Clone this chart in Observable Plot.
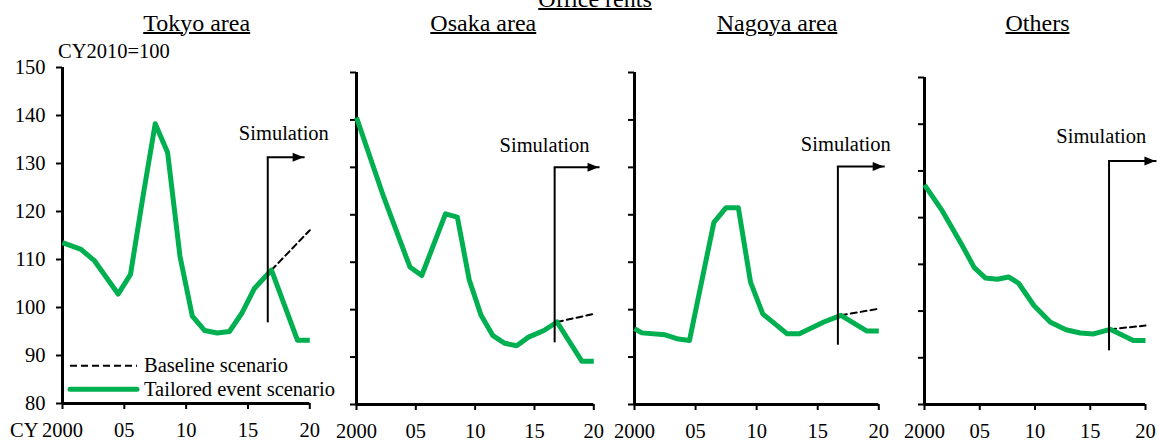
<!DOCTYPE html>
<html>
<head>
<meta charset="utf-8">
<script src="https://cdn.jsdelivr.net/npm/d3@7"></script>
<script src="https://cdn.jsdelivr.net/npm/@observablehq/plot@0.6"></script>
<style>
  html, body { margin: 0; padding: 0; background: #fff; }
  #chart { position: relative; width: 1157px; height: 441px; overflow: hidden; background: #fff;
           font-family: "Liberation Serif", "Times New Roman", serif; color: #000; }
  .abs { position: absolute; white-space: nowrap; }
  .title { font-size: 24px; line-height: 24px; text-decoration: underline; text-decoration-thickness: 2px; transform: translateX(-50%); }
  .small { font-size: 20.5px; line-height: 20.5px; }
</style>
</head>
<body>
<div id="chart"></div>
<script>
// ---------- data ----------
const chartTitle = "Office rents";
const panelNames = ["Tokyo area", "Osaka area", "Nagoya area", "Others"];
const yUnit = "CY2010=100";
const xPrefix = "CY";
const xTicks = [2000, 2005, 2010, 2015, 2020];
const xTickLabels = ["2000", "05", "10", "15", "20"];
const yTicks = [80, 90, 100, 110, 120, 130, 140, 150];
const legendLabels = ["Baseline scenario", "Tailored event scenario"];
const simLabel = "Simulation";

// Tailored event scenario (whole line)
const tokyoYears  = [2000, 2001.5, 2002.6, 2004.5, 2005.5, 2006.5, 2007.5, 2008.5, 2009.5, 2010.5, 2011.5, 2012.5, 2013.5, 2014.5, 2015.5, 2016.9, 2019, 2020];
const tokyoValues = [113.5, 112.1, 109.7, 102.8, 106.9, 123.0, 138.3, 132.3, 110.7, 98.2, 95.2, 94.7, 95.0, 98.8, 103.9, 107.8, 93.2, 93.2];
const osakaYears  = [2000, 2002.3, 2004.5, 2005.5, 2007.5, 2008.5, 2009.5, 2010.5, 2011.5, 2012.5, 2013.5, 2014.5, 2015.8, 2016.9, 2019, 2020];
const osakaValues = [140.5, 123.7, 109.0, 107.2, 120.2, 119.5, 106.3, 98.8, 94.5, 92.9, 92.4, 94.2, 95.6, 97.4, 89.1, 89.1];
const nagoyaYears  = [2000, 2000.6, 2002.5, 2003.6, 2004.5, 2006.5, 2007.5, 2008.5, 2009.5, 2010.5, 2012.5, 2013.5, 2015.5, 2016.9, 2019, 2020];
const nagoyaValues = [96.0, 95.1, 94.7, 93.8, 93.5, 118.4, 121.5, 121.5, 105.8, 99.1, 94.9, 94.9, 97.4, 98.8, 95.5, 95.5];
const othersYears  = [2000, 2001.6, 2003.4, 2004.5, 2005.5, 2006.6, 2007.6, 2008.5, 2009.9, 2011.4, 2012.8, 2014.1, 2015.3, 2016.8, 2018.9, 2020];
const othersValues = [127.0, 121.5, 114.1, 109.3, 107.1, 106.8, 107.3, 106.0, 101.2, 97.6, 96.0, 95.3, 95.1, 96.1, 93.7, 93.7];

// Baseline scenario (simulation period)
const tokyoBaseYears = [2016.9, 2020],  tokyoBaseValues = [107.8, 116.1];
const osakaBaseYears = [2016.9, 2020],  osakaBaseValues = [97.4, 99.1];
const nagoyaBaseYears = [2016.9, 2020], nagoyaBaseValues = [98.8, 100.2];
const othersBaseYears = [2016.8, 2020], othersBaseValues = [96.1, 96.9];

// Simulation annotation (data units)
const simStartYear = [2016.6, 2016.7, 2016.65, 2016.7];
const simTopValue = [131.3, 130.0, 130.2, 132.1];
const simBottomValue = [96.9, 93.1, 92.6, 91.6];
const simArrowEndYear = [2019.5, 2020.4, 2020.4, 2020.9];
const simLabelYear = [2017.9, 2015.85, 2017.3, 2016.0];
const simLabelValue = [136.2, 134.6, 134.9, 137.4];

// ---------- layout (pixels) ----------
const layout = [
  {left: 0,   W: 340, mL: 62, mR: 30.7, mT: 67, mB: 38},
  {left: 340, W: 280, mL: 16, mR: 26.7, mT: 72, mB: 37},
  {left: 620, W: 280, mL: 14, mR: 21.7, mT: 72, mB: 37},
  {left: 900, W: 257, mL: 24, mR: 12,   mT: 77, mB: 37}
];
const titleCenters = [196.7, 483.3, 777, 1037.5];
const green = "#00B050";
const font = "'Liberation Serif', 'Times New Roman', serif";

const tailored = [[tokyoYears, tokyoValues], [osakaYears, osakaValues], [nagoyaYears, nagoyaValues], [othersYears, othersValues]]
  .map(([ys, vs]) => ys.map((y, i) => ({year: y, value: vs[i]})));
const baseline = [[tokyoBaseYears, tokyoBaseValues], [osakaBaseYears, osakaBaseValues], [nagoyaBaseYears, nagoyaBaseValues], [othersBaseYears, othersBaseValues]]
  .map(([ys, vs]) => ys.map((y, i) => ({year: y, value: vs[i]})));

const arrowHead = {
  draw(ctx) {
    ctx.moveTo(0, 0);
    ctx.lineTo(-11, -4.5);
    ctx.lineTo(-11, 4.5);
    ctx.closePath();
  }
};

const chart = document.getElementById("chart");

function addText(cls, text, left, top, extra) {
  const d = document.createElement("div");
  d.className = "abs " + cls;
  d.textContent = text;
  d.style.left = left + "px";
  d.style.top = top + "px";
  if (extra) Object.assign(d.style, extra);
  chart.appendChild(d);
  return d;
}

layout.forEach((cfg, i) => {
  const sim = [{
    year: simStartYear[i], top: simTopValue[i], bottom: simBottomValue[i],
    end: simArrowEndYear[i], lx: simLabelYear[i], ly: simLabelValue[i]
  }];
  const svg = Plot.plot({
    width: cfg.W, height: 441,
    marginLeft: cfg.mL, marginRight: cfg.mR, marginTop: cfg.mT, marginBottom: cfg.mB,
    x: {domain: [2000, 2020]},
    y: {domain: [80, 150]},
    style: {fontFamily: font, fontSize: "20.5px", background: "transparent", overflow: "visible", color: "#000"},
    marks: [
      Plot.axisY({ticks: yTicks, tickSize: 6, tickPadding: 11, strokeWidth: 2, strokeOpacity: 1,
                  tickFormat: i === 0 ? (d) => String(d) : () => "", label: null, fill: "#000"}),
      Plot.axisX({ticks: xTicks, tickSize: 6, tickPadding: 13, strokeWidth: 2, strokeOpacity: 1,
                  tickFormat: (d) => xTickLabels[xTicks.indexOf(d)], label: null, fill: "#000"}),
      Plot.ruleX([2000], {stroke: "#000", strokeWidth: 3}),
      Plot.ruleY([80], {stroke: "#000", strokeWidth: 3}),
      Plot.line(baseline[i], {x: "year", y: "value", stroke: "#000", strokeWidth: 2, strokeDasharray: "6,4"}),
      Plot.line(tailored[i], {x: "year", y: "value", stroke: green, strokeWidth: 5, strokeLinecap: "butt", strokeLinejoin: "round"}),
      Plot.link(sim, {x1: "year", x2: "year", y1: "bottom", y2: "top", stroke: "#000", strokeWidth: 2}),
      Plot.link(sim, {x1: "year", x2: "end", y1: "top", y2: "top", stroke: "#000", strokeWidth: 2, strokeLinecap: "square"}),
      Plot.dot(sim, {x: "end", y: "top", symbol: arrowHead, r: 4, fill: "#000", stroke: "none"}),
      Plot.text(sim, {x: "lx", y: "ly", text: () => simLabel, fill: "#000", textAnchor: "middle"})
    ]
  });
  const wrap = document.createElement("div");
  wrap.className = "abs";
  wrap.style.left = cfg.left + "px";
  wrap.style.top = "0px";
  wrap.style.width = cfg.W + "px";
  wrap.appendChild(svg);
  chart.appendChild(wrap);
});

// titles
addText("title", chartTitle, 595, -12.8);
panelNames.forEach((n, i) => addText("title", n, titleCenters[i], 10.5));
addText("small", yUnit, 58, 40.8);
addText("small", xPrefix, 10, 419.8);

// legend (inside Tokyo panel)
const ns = "http://www.w3.org/2000/svg";
const lg = document.createElementNS(ns, "svg");
lg.setAttribute("width", 80); lg.setAttribute("height", 40);
lg.style.position = "absolute"; lg.style.left = "66px"; lg.style.top = "355px";
const l1 = document.createElementNS(ns, "line");
l1.setAttribute("x1", 4); l1.setAttribute("x2", 71); l1.setAttribute("y1", 10.7); l1.setAttribute("y2", 10.7);
l1.setAttribute("stroke", "#000"); l1.setAttribute("stroke-width", 2); l1.setAttribute("stroke-dasharray", "7,4");
const l2 = document.createElementNS(ns, "line");
l2.setAttribute("x1", 4); l2.setAttribute("x2", 71); l2.setAttribute("y1", 34.3); l2.setAttribute("y2", 34.3);
l2.setAttribute("stroke", green); l2.setAttribute("stroke-width", 5); l2.setAttribute("stroke-linecap", "round");
lg.appendChild(l1); lg.appendChild(l2);
chart.appendChild(lg);
addText("small", legendLabels[0], 144, 354.5);
addText("small", legendLabels[1], 144, 378.8);
</script>
</body>
</html>
